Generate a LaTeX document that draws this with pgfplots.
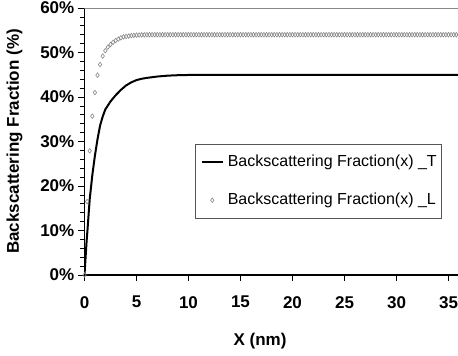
\documentclass[border=0pt]{standalone}
\usepackage{pgfplots}
\pgfplotsset{compat=1.18}
\usepackage{fontspec}
\setmainfont{Liberation Sans}
\definecolor{mkgray}{HTML}{888888}
\definecolor{boxgray}{HTML}{555555}
\begin{document}
\begin{tikzpicture}
\begin{axis}[
  scale only axis,
  width=374.4bp, height=267bp,
  xmin=0, xmax=36, ymin=0, ymax=60,
  axis x line*=bottom, axis y line*=left,
  axis line style={-, black, line width=1.2bp},
  xtick={0,5,...,35},
  ytick={0,10,...,60},
  minor y tick num=4,
  tick align=outside,
  major tick length=6bp, minor tick length=4bp,
  tick style={black, line width=0.8bp},
  /pgf/number format/assume math mode=true,
  tick label style={font=\bfseries\fontsize{17bp}{20bp}\selectfont},
  yticklabel={\pgfmathprintnumber{\tick}\%},
  yticklabel style={inner sep=0pt, xshift=-4bp},
  xticklabel style={inner sep=0pt, yshift=-15bp},
  xlabel={X (nm)},
  ylabel={Backscattering Fraction (\%)},
  label style={font=\bfseries\fontsize{17bp}{20bp}\selectfont},
  xlabel style={at={(0.469,0)}, anchor=center, yshift=-66bp},
  ylabel style={at={(0,0.5)}, anchor=center, rotate=0, yshift=70bp},
  legend cell align=left,
  legend style={at={(0.955,0.491)}, anchor=north east,
    draw=boxgray, line width=0.6bp,
    inner xsep=5bp, inner ysep=10.5bp, row sep=23bp, column sep=4bp,
    font=\fontsize{16bp}{18bp}\selectfont,
    nodes={inner sep=0pt, text height=11.5bp, text depth=3.5bp}},
  legend image code/.code={\draw[mark repeat=2,mark phase=2,#1] plot coordinates {(0bp,0bp) (10.5bp,0bp) (21bp,0bp)};},
]
\addplot[black, line width=2bp, line join=round] table {
x y
0 0
0.1 3.8
0.2 7.5
0.3 10.5
0.4 13.8
0.5 17.0
0.75 22.4
1.0 26.8
1.25 30.5
1.5 33.6
1.75 35.6
2.0 37.2
2.5 39.0
3.0 40.4
3.5 41.6
4.0 42.6
4.5 43.3
5.0 43.8
5.5 44.1
6.0 44.3
7.0 44.6
8.0 44.8
9.0 44.9
10 44.95
12 45.0
15 45.0
20 45.0
25 45.0
30 45.0
36 45.0
};
\addlegendentry{Backscattering Fraction(x) \_T}
\addplot[only marks, mark=diamond, mark size=2.3bp, mark options={draw=mkgray, fill=white, line width=0.6bp}] table {
x y
0 0
0.25 16.5
0.5 27.9
0.75 35.7
1 41.0
1.25 44.9
1.5 47.3
1.75 49.2
2 50.4
2.25 51.2
2.5 51.8
2.75 52.3
3 52.7
3.25 53.0
3.5 53.3
3.75 53.5
4 53.6
4.25 53.7
4.5 53.8
4.75 53.85
5 53.9
5.25 53.92
5.5 53.95
5.75 53.97
6 54.0
6.25 54.0
6.5 54.0
6.75 54.0
7 54.0
7.25 54.0
7.5 54.0
7.75 54.0
8 54.0
8.25 54.0
8.5 54.0
8.75 54.0
9 54.0
9.25 54.0
9.5 54.0
9.75 54.0
10 54.0
10.25 54.0
10.5 54.0
10.75 54.0
11 54.0
11.25 54.0
11.5 54.0
11.75 54.0
12 54.0
12.25 54.0
12.5 54.0
12.75 54.0
13 54.0
13.25 54.0
13.5 54.0
13.75 54.0
14 54.0
14.25 54.0
14.5 54.0
14.75 54.0
15 54.0
15.25 54.0
15.5 54.0
15.75 54.0
16 54.0
16.25 54.0
16.5 54.0
16.75 54.0
17 54.0
17.25 54.0
17.5 54.0
17.75 54.0
18 54.0
18.25 54.0
18.5 54.0
18.75 54.0
19 54.0
19.25 54.0
19.5 54.0
19.75 54.0
20 54.0
20.25 54.0
20.5 54.0
20.75 54.0
21 54.0
21.25 54.0
21.5 54.0
21.75 54.0
22 54.0
22.25 54.0
22.5 54.0
22.75 54.0
23 54.0
23.25 54.0
23.5 54.0
23.75 54.0
24 54.0
24.25 54.0
24.5 54.0
24.75 54.0
25 54.0
25.25 54.0
25.5 54.0
25.75 54.0
26 54.0
26.25 54.0
26.5 54.0
26.75 54.0
27 54.0
27.25 54.0
27.5 54.0
27.75 54.0
28 54.0
28.25 54.0
28.5 54.0
28.75 54.0
29 54.0
29.25 54.0
29.5 54.0
29.75 54.0
30 54.0
30.25 54.0
30.5 54.0
30.75 54.0
31 54.0
31.25 54.0
31.5 54.0
31.75 54.0
32 54.0
32.25 54.0
32.5 54.0
32.75 54.0
33 54.0
33.25 54.0
33.5 54.0
33.75 54.0
34 54.0
34.25 54.0
34.5 54.0
34.75 54.0
35 54.0
35.25 54.0
35.5 54.0
35.75 54.0
36 54.0
};
\addlegendentry{Backscattering Fraction(x) \_L}
\draw[mkgray, line width=1.2bp] (rel axis cs:0,1) -- (rel axis cs:1,1);
\end{axis}
\pgfresetboundingbox
\useasboundingbox (-84.5bp,-81bp) rectangle (373.5bp,275bp);
\end{tikzpicture}
\end{document}
